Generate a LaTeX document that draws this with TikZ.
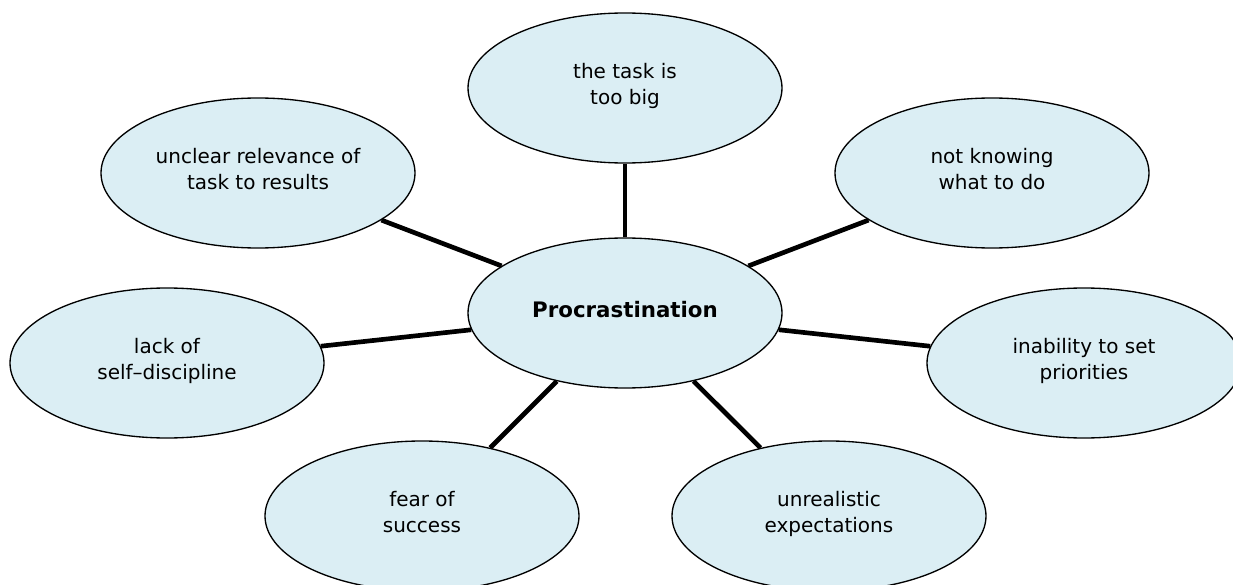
\documentclass[tikz,border=0pt]{standalone}
\usepackage{fontspec}
\setmainfont{DejaVu Sans}
\usetikzlibrary{shapes.geometric}
\definecolor{bubblefill}{RGB}{219,238,244}

\begin{document}
\begin{tikzpicture}[x=0.75pt, y=0.75pt]

	% ---------- Helper styles ----------
	\tikzset{
		bubble/.style={ellipse, draw, line width=1pt, fill=bubblefill,
			minimum width=235.5pt, minimum height=112.5pt, inner sep=0pt,
			align=center, font=\fontsize{15pt}{20pt}\selectfont,
			execute at begin node=\strut, execute at end node=\strut},
		hub/.style={bubble, font=\fontsize{16pt}{18pt}\selectfont\bfseries},
		spoke/.style={line width=3.5pt}
	}

	% ---------- Frame (1233 x 585) ----------
	\useasboundingbox (0,0) rectangle (1233,-585);

	% ---------- Centre ----------
	\node[hub] (proc) at (625,-313) {Procrastination};

	% ---------- Causes round the centre ----------
	\node[bubble] (bigtask)    at (625,-88)   {the task is\\too big};
	\node[bubble] (unclear)    at (258,-173)  {unclear relevance of\\task to results};
	\node[bubble] (notknow)    at (992,-173)  {not knowing\\what to do};
	\node[bubble] (selfdisc)   at (167,-363)  {lack of\\self--discipline};
	\node[bubble] (priorities) at (1084,-363) {inability to set\\priorities};
	\node[bubble] (fear)       at (422,-516)  {fear of\\success};
	\node[bubble] (unreal)     at (829,-516)  {unrealistic\\expectations};

	% ---------- Spokes ----------
	\foreach \n in {bigtask,unclear,notknow,selfdisc,priorities,fear,unreal} {
		\draw[spoke] (proc) -- (\n);
	}

\end{tikzpicture}
\end{document}
